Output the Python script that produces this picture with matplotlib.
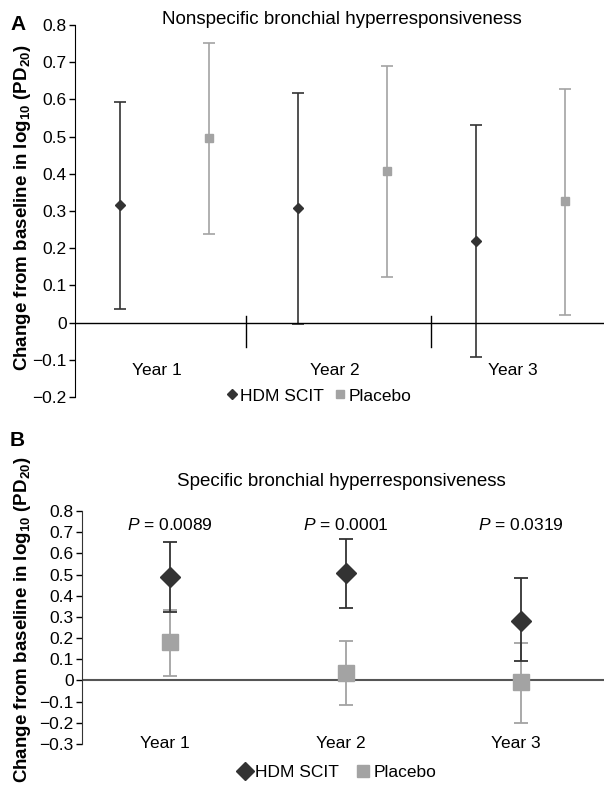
import matplotlib
matplotlib.use("Agg")
import matplotlib.pyplot as plt
from matplotlib.lines import Line2D

plt.rcParams["font.family"] = ["Liberation Sans", "DejaVu Sans"]
plt.rcParams["mathtext.fontset"] = "custom"
plt.rcParams["mathtext.rm"] = "Liberation Sans"
plt.rcParams["mathtext.it"] = "Liberation Sans:italic"
plt.rcParams["mathtext.bf"] = "Liberation Sans:bold"

# Data
years = ["Year 1", "Year 2", "Year 3"]
groups = ["HDM SCIT", "Placebo"]

# Panel A: nonspecific bronchial hyperresponsiveness
a_hdm = [0.315, 0.308, 0.220]
a_hdm_lo = [0.036, -0.003, -0.092]
a_hdm_hi = [0.593, 0.618, 0.531]
a_pla = [0.496, 0.407, 0.327]
a_pla_lo = [0.238, 0.122, 0.021]
a_pla_hi = [0.751, 0.691, 0.629]

# Panel B: specific bronchial hyperresponsiveness
b_hdm = [0.490, 0.505, 0.283]
b_hdm_lo = [0.322, 0.341, 0.093]
b_hdm_hi = [0.656, 0.668, 0.482]
b_pla = [0.182, 0.034, -0.009]
b_pla_lo = [0.023, -0.117, -0.199]
b_pla_hi = [0.333, 0.187, 0.179]
p_values = ["0.0089", "0.0001", "0.0319"]

W, H = 604, 788
DARK = "#333333"
LIGHT = "#a3a3a3"
FS = 12.5
ylabel = r"Change from baseline in log$_\mathbf{10}$ (PD$_\mathbf{20}$)"


def fx(x):
    return x / W


def fy(y):
    return 1 - y / H


def errs(v, lo, hi):
    return [[a - b for a, b in zip(v, lo)], [b - a for a, b in zip(v, hi)]]


fig = plt.figure(figsize=(W / 100, H / 100), dpi=100)

# ---------- panel A ----------
axA = fig.add_axes([fx(75), fy(397), fx(604 - 75), (397 - 25) / H])
xs = [0, 1, 2]
off = 0.25
axA.errorbar([x - off for x in xs], a_hdm, yerr=errs(a_hdm, a_hdm_lo, a_hdm_hi),
             fmt="D", color=DARK, ms=5.5, elinewidth=1.2, capsize=4, capthick=1.2)
axA.errorbar([x + off for x in xs], a_pla, yerr=errs(a_pla, a_pla_lo, a_pla_hi),
             fmt="s", color=LIGHT, ms=5.5, elinewidth=1.2, capsize=4, capthick=1.2)
axA.axhline(0, color="black", lw=1)
for sx in [0.46, 1.5]:
    axA.plot([sx, sx], [-0.065, 0.018], color="black", lw=1)
for x, lab in zip(xs, years):
    axA.text(x - 0.04, -0.13, lab, ha="center", va="center", fontsize=FS)
axA.set_xlim(-0.5, 2.47)
axA.set_ylim(-0.2, 0.8)
axA.set_yticks([i / 10 for i in range(-2, 9)])
axA.set_yticklabels(["\u22120.2", "\u22120.1", "0", "0.1", "0.2", "0.3", "0.4",
                     "0.5", "0.6", "0.7", "0.8"], fontsize=FS)
axA.set_xticks([])
for s in ["top", "right", "bottom"]:
    axA.spines[s].set_visible(False)
axA.tick_params(axis="y", direction="out", length=4, width=1, pad=2)
fig.text(fx(342), fy(20), "Nonspecific bronchial hyperresponsiveness",
         ha="center", va="center", fontsize=13.5)
fig.text(fx(18), fy(24), "A", ha="center", va="center", fontsize=15, fontweight="bold")
fig.text(fx(23), fy(208), ylabel, rotation=90, ha="center", va="center",
         fontsize=13.5, fontweight="bold")
hA = [Line2D([], [], marker="D", ls="none", color=DARK, ms=5.5),
      Line2D([], [], marker="s", ls="none", color=LIGHT, ms=5.5)]
fig.legend(hA, groups, loc="center", bbox_to_anchor=(fx(318), fy(396)), ncol=2,
           frameon=False, fontsize=FS, handletextpad=0.1, columnspacing=0.5,
           handlelength=0.8, borderpad=0)

# ---------- panel B ----------
axB = fig.add_axes([fx(82), fy(744), fx(604 - 82), (744 - 511) / H])
axB.errorbar(xs, b_pla, yerr=errs(b_pla, b_pla_lo, b_pla_hi),
             fmt="s", color=LIGHT, ms=11, elinewidth=1.3, capsize=5, capthick=1.3)
axB.errorbar(xs, b_hdm, yerr=errs(b_hdm, b_hdm_lo, b_hdm_hi),
             fmt="D", color=DARK, ms=10, elinewidth=1.3, capsize=5, capthick=1.3)
axB.axhline(0, color="#555555", lw=1.5, zorder=1)
for x, lab in zip(xs, years):
    axB.text(x - 0.03, -0.297, lab, ha="center", va="center", fontsize=FS)
for x, p in zip(xs, p_values):
    axB.text(x, 0.734, r"$P$" + " = " + p, ha="center", va="center", fontsize=FS)
axB.set_xlim(-0.5, 2.47)
axB.set_ylim(-0.3, 0.8)
axB.set_yticks([i / 10 for i in range(-3, 9)])
axB.set_yticklabels(["\u22120.3", "\u22120.2", "\u22120.1", "0", "0.1", "0.2", "0.3",
                     "0.4", "0.5", "0.6", "0.7", "0.8"], fontsize=FS)
axB.set_xticks([])
for s in ["top", "right", "bottom"]:
    axB.spines[s].set_visible(False)
axB.spines["left"].set_color("#333333")
axB.tick_params(axis="y", direction="out", length=4, width=1, pad=2)
fig.text(fx(341), fy(481), "Specific bronchial hyperresponsiveness",
         ha="center", va="center", fontsize=13.5)
fig.text(fx(17), fy(440), "B", ha="center", va="center", fontsize=15, fontweight="bold")
fig.text(fx(23), fy(620), ylabel, rotation=90, ha="center", va="center",
         fontsize=13.5, fontweight="bold")
hB = [Line2D([], [], marker="D", ls="none", color=DARK, ms=9),
      Line2D([], [], marker="s", ls="none", color=LIGHT, ms=9)]
fig.legend(hB, groups, loc="center", bbox_to_anchor=(fx(337), fy(772)), ncol=2,
           frameon=False, fontsize=FS, handletextpad=0.2, columnspacing=1.0,
           handlelength=0.8, borderpad=0)

fig.savefig("out.png", dpi=100)
